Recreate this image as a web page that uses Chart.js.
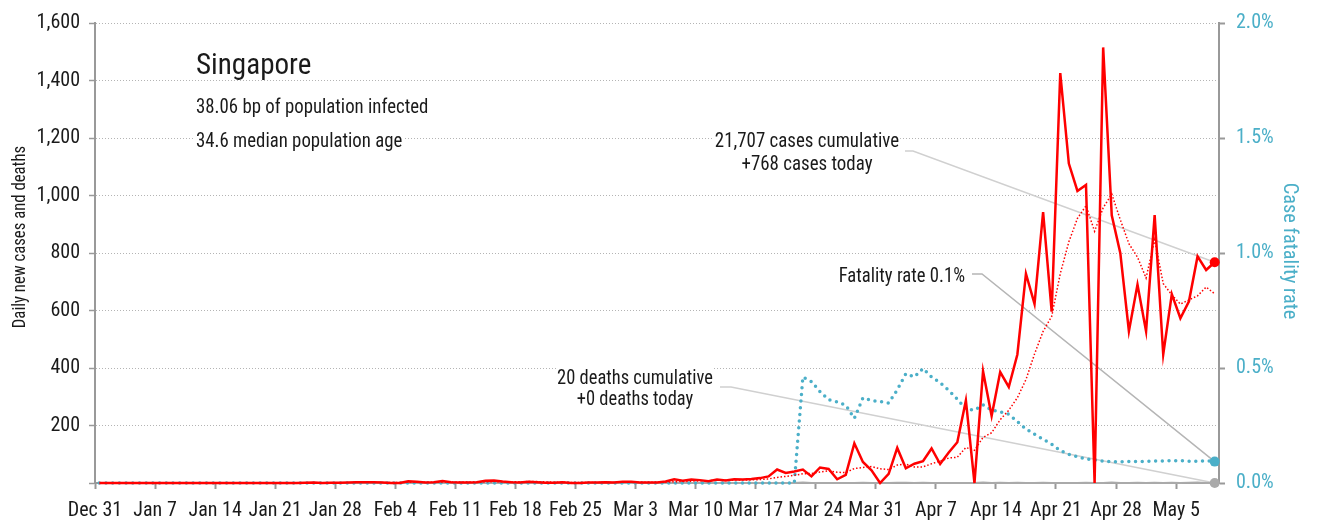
<!DOCTYPE html>
<html>
<head>
<meta charset="utf-8">
<script src="https://cdn.jsdelivr.net/npm/chart.js@4.4.0/dist/chart.umd.min.js"></script>
<style>
  html, body { margin: 0; padding: 0; background: #fff; }
  #wrap { width: 1319px; height: 522px; position: relative; }
</style>
</head>
<body>
<div id="wrap"><canvas id="chart"></canvas></div>
<script>
const FONT = "'Roboto Condensed', 'Liberation Sans Narrow', 'DejaVu Sans Condensed', sans-serif";

// one value per day, first day is Dec 31 (rows are weeks)
const cases = [
    0, 0, 0, 0, 0, 0, 0,
    0, 0, 0, 0, 0, 0, 0,
    0, 0, 0, 0, 0, 0, 0,
    0, 0, 0, 1, 2, 0, 1,
    1, 2, 3, 3, 3, 2, 0,
    0, 6, 4, 2, 3, 7, 3,
    2, 2, 3, 8, 9, 5, 3,
    2, 4, 3, 1, 1, 3, 0,
    0, 2, 2, 3, 2, 4, 4,
    2, 2, 2, 5, 13, 8, 12,
    10, 6, 12, 9, 13, 12, 14,
    17, 23, 47, 35, 40, 47, 23,
    54, 49, 13, 28, 138, 73, 44,
    0, 32, 122, 51, 67, 76, 120,
    66, 106, 142, 287, 0, 389, 233,
    386, 334, 447, 728, 623, 942, 596,
    1426, 1111, 1016, 1037, 0, 1515, 931,
    799, 528, 690, 528, 932, 447, 657,
    573, 632, 788, 741, 768
];

// dotted red trend line
const casesAvg = [
    null, null, null, null, null, null, 0,
    0, 0, 0, 0, 0, 0, 0,
    0, 0, 0, 0, 0, 0, 0,
    0, 0, 0, 0.14, 0.43, 0.43, 0.57,
    0.71, 1.0, 1.43, 1.71, 1.86, 2.14, 2.0,
    1.86, 2.43, 2.57, 2.43, 2.43, 3.14, 3.57,
    3.86, 3.29, 3.14, 4.0, 4.86, 4.57, 4.57,
    4.57, 4.86, 4.86, 3.86, 2.71, 2.43, 2.0,
    1.71, 1.43, 1.29, 1.57, 1.71, 1.86, 2.43,
    2.71, 2.71, 2.71, 3.0, 4.57, 5.14, 6.29,
    7.43, 8.0, 9.43, 10.0, 10.0, 10.57, 10.86,
    11.86, 14.29, 19.29, 23.0, 26.86, 31.86, 33.14,
    38.43, 42.14, 37.29, 36.29, 50.29, 54.0, 57.0,
    49.29, 46.86, 62.43, 65.71, 55.57, 56.0, 66.86,
    76.29, 86.86, 89.71, 123.43, 113.86, 158.57, 174.71,
    220.43, 253.0, 296.57, 359.57, 448.57, 527.57, 579.43,
    728.0, 839.0, 920.29, 964.43, 875.43, 957.29, 1005.14,
    915.57, 832.29, 785.71, 713.0, 846.14, 693.57, 654.43,
    622.14, 637.0, 651.0, 681.43, 658.0
];

// case fatality rate, percent
const fatality = [
    0, 0, 0, 0, 0, 0, 0,
    0, 0, 0, 0, 0, 0, 0,
    0, 0, 0, 0, 0, 0, 0,
    0, 0, 0, 0, 0, 0, 0,
    0, 0, 0, 0, 0, 0, 0,
    0, 0, 0, 0, 0, 0, 0,
    0, 0, 0, 0, 0, 0, 0,
    0, 0, 0, 0, 0, 0, 0,
    0, 0, 0, 0, 0, 0, 0,
    0, 0, 0, 0, 0, 0, 0,
    0, 0, 0, 0, 0, 0, 0,
    0, 0, 0, 0, 0, 0.461, 0.441,
    0.397, 0.362, 0.353, 0.338, 0.281, 0.370, 0.359,
    0.354, 0.348, 0.405, 0.475, 0.461, 0.498, 0.461,
    0.436, 0.403, 0.365, 0.321, 0.317, 0.340, 0.317,
    0.309, 0.299, 0.267, 0.235, 0.212, 0.190, 0.169,
    0.141, 0.125, 0.114, 0.105, 0.101, 0.095, 0.092,
    0.092, 0.093, 0.093, 0.094, 0.095, 0.096, 0.097,
    0.097, 0.095, 0.095, 0.097, 0.093
];

const deaths = [
    0, 0, 0, 0, 0, 0, 0,
    0, 0, 0, 0, 0, 0, 0,
    0, 0, 0, 0, 0, 0, 0,
    0, 0, 0, 0, 0, 0, 0,
    0, 0, 0, 0, 0, 0, 0,
    0, 0, 0, 0, 0, 0, 0,
    0, 0, 0, 0, 0, 0, 0,
    0, 0, 0, 0, 0, 0, 0,
    0, 0, 0, 0, 0, 0, 0,
    0, 0, 0, 0, 0, 0, 0,
    0, 0, 0, 0, 0, 0, 0,
    0, 0, 0, 0, 0, 2, 0,
    0, 0, 0, 0, 0, 1, 0,
    0, 0, 1, 1, 0, 1, 0,
    0, 0, 0, 0, 0, 2, 0,
    1, 0, 1, 0, 0, 1, 0,
    0, 0, 0, 1, 0, 0, 2,
    0, 0, 1, 0, 1, 0, 1,
    0, 1, 2, 0, 0
];

const weekLabels = ['Dec 31', 'Jan 7', 'Jan 14', 'Jan 21', 'Jan 28', 'Feb 4', 'Feb 11', 'Feb 18',
    'Feb 25', 'Mar 3', 'Mar 10', 'Mar 17', 'Mar 24', 'Mar 31', 'Apr 7', 'Apr 14', 'Apr 21',
    'Apr 28', 'May 5'];

const country = 'Singapore';
const infoLines = ['38.06 bp of population infected', '34.6 median population age'];
const casesNote = ['21,707 cases cumulative', '+768 cases today'];
const fatalityNote = 'Fatality rate 0.1%';
const deathsNote = ['20 deaths cumulative', '+0 deaths today'];

const RED = '#ff0000';
const CYAN = '#4bafc8';
const GREY = '#999999';
const last = cases.length - 1;

// each day's value sits in the middle of its day
function points(values) {
    return values.map((v, i) => ({ x: i + 0.5, y: v }));
}

function endDot(c) {
    return c.dataIndex === last ? 5 : 0;
}

function leader(ctx, pts, color) {
    ctx.save();
    ctx.strokeStyle = color;
    ctx.lineWidth = 1.5;
    ctx.beginPath();
    ctx.moveTo(pts[0][0], pts[0][1]);
    for (let i = 1; i < pts.length; i++) ctx.lineTo(pts[i][0], pts[i][1]);
    ctx.stroke();
    ctx.restore();
}

// text squeezed a bit sideways, the original uses a narrower face
function label(ctx, text, x, y, align, size, squeeze) {
    ctx.save();
    ctx.font = size + 'px ' + FONT;
    const w = ctx.measureText(text).width * squeeze;
    let left = x;
    if (align === 'center') left = x - w / 2;
    if (align === 'right') left = x - w;
    ctx.fillStyle = '#ffffff';
    ctx.fillRect(left - 1, y - size * 0.78, w + 2, size * 0.95);
    ctx.fillStyle = '#1a1a1a';
    ctx.textAlign = 'left';
    ctx.textBaseline = 'alphabetic';
    ctx.translate(left, y);
    ctx.scale(squeeze, 1);
    ctx.fillText(text, 0, 0);
    ctx.restore();
}

const notes = {
    id: 'notes',
    beforeDatasetsDraw(chart) {
        const ctx = chart.ctx;
        const x = chart.scales.x, y = chart.scales.y, y1 = chart.scales.y1;
        const px = x.getPixelForValue(last + 0.5);
        leader(ctx, [[905, 151], [913, 151], [px, y.getPixelForValue(cases[last])]], '#d0d0d0');
        leader(ctx, [[972, 274], [982, 274], [px, y1.getPixelForValue(fatality[last])]], '#b5b5b5');
        leader(ctx, [[720, 387], [731, 387], [px, y.getPixelForValue(deaths[last])]], '#d0d0d0');
    },
    afterDraw(chart) {
        const ctx = chart.ctx;
        label(ctx, country, 196, 74, 'left', 30, 0.97);
        label(ctx, infoLines[0], 196, 113, 'left', 21, 0.895);
        label(ctx, infoLines[1], 196, 147, 'left', 21, 0.895);
        label(ctx, casesNote[0], 807, 147, 'center', 21, 0.9);
        label(ctx, casesNote[1], 807, 170, 'center', 21, 0.9);
        label(ctx, fatalityNote, 965, 282, 'right', 21, 0.89);
        label(ctx, deathsNote[0], 635, 383.5, 'center', 21, 0.88);
        label(ctx, deathsNote[1], 635, 405, 'center', 21, 0.88);

        // axis titles
        ctx.save();
        ctx.font = '19px ' + FONT;
        ctx.fillStyle = '#1a1a1a';
        ctx.textAlign = 'center';
        ctx.textBaseline = 'alphabetic';
        ctx.translate(25, 237);
        ctx.rotate(-Math.PI / 2);
        ctx.scale(0.88, 1);
        ctx.fillText('Daily new cases and deaths', 0, 0);
        ctx.restore();

        ctx.save();
        ctx.font = '21px ' + FONT;
        ctx.fillStyle = CYAN;
        ctx.textAlign = 'center';
        ctx.textBaseline = 'alphabetic';
        ctx.translate(1284, 251);
        ctx.rotate(Math.PI / 2);
        ctx.scale(0.97, 1);
        ctx.fillText('Case fatality rate', 0, 0);
        ctx.restore();
    }
};

Chart.defaults.font.family = FONT;
Chart.defaults.font.size = 20;
Chart.defaults.color = '#1a1a1a';

new Chart(document.getElementById('chart'), {
    type: 'line',
    data: {
        datasets: [
            {
                label: 'Daily new cases',
                data: points(cases),
                yAxisID: 'y',
                borderColor: RED,
                backgroundColor: RED,
                borderWidth: 2.5,
                pointRadius: endDot,
                pointBorderWidth: 0,
                tension: 0,
                clip: false
            },
            {
                label: 'Trend',
                data: points(casesAvg),
                yAxisID: 'y',
                borderColor: RED,
                borderWidth: 1.5,
                borderDash: [1.5, 2],
                pointRadius: 0,
                tension: 0
            },
            {
                label: 'Case fatality rate',
                data: points(fatality),
                yAxisID: 'y1',
                borderColor: CYAN,
                backgroundColor: CYAN,
                borderWidth: 3.5,
                borderDash: [0, 6.7],
                borderCapStyle: 'round',
                pointRadius: endDot,
                pointBorderWidth: 0,
                tension: 0,
                clip: false
            },
            {
                label: 'Daily deaths',
                data: points(deaths),
                yAxisID: 'y',
                borderColor: '#aaaaaa',
                backgroundColor: '#aaaaaa',
                borderWidth: 2,
                pointRadius: endDot,
                pointBorderWidth: 0,
                tension: 0,
                clip: false
            }
        ]
    },
    options: {
        responsive: true,
        maintainAspectRatio: false,
        animation: false,
        events: [],
        layout: { padding: { top: 20, left: 0, right: 0, bottom: 0 } },
        plugins: {
            legend: { display: false },
            tooltip: { enabled: false }
        },
        scales: {
            x: {
                type: 'linear',
                min: 0,
                max: 131,
                afterBuildTicks: axis => {
                    axis.ticks = weekLabels.map((_, i) => ({ value: i * 7 }));
                },
                afterFit: axis => { axis.height = 39; },
                ticks: {
                    callback: (v, i) => weekLabels[i],
                    maxRotation: 0,
                    autoSkip: false,
                    padding: 10,
                    color: '#1a1a1a',
                    font: { size: 20 }
                },
                grid: {
                    drawOnChartArea: false,
                    drawTicks: true,
                    tickLength: 6,
                    tickWidth: 2,
                    tickColor: GREY
                },
                border: { display: true, color: GREY, width: 2 }
            },
            y: {
                position: 'left',
                min: 0,
                max: 1600,
                afterFit: axis => { axis.width = 95; },
                ticks: {
                    stepSize: 200,
                    padding: 9,
                    color: '#1a1a1a',
                    font: { size: 20 },
                    callback: v => v === 0 ? '' : v.toLocaleString('en-US')
                },
                grid: {
                    color: '#b4b4b4',
                    lineWidth: 1,
                    drawTicks: true,
                    tickLength: 6,
                    tickWidth: 1.5,
                    tickColor: GREY
                },
                border: { display: true, color: GREY, width: 2, dash: [1, 2] }
            },
            y1: {
                position: 'right',
                min: 0,
                max: 2,
                afterFit: axis => { axis.width = 100; },
                ticks: {
                    stepSize: 0.5,
                    padding: 11,
                    color: CYAN,
                    font: { size: 20 },
                    callback: v => v.toFixed(1) + '%'
                },
                grid: {
                    drawOnChartArea: false,
                    drawTicks: true,
                    tickLength: 6,
                    tickWidth: 2,
                    tickColor: GREY
                },
                border: { display: true, color: GREY, width: 2 }
            }
        }
    },
    plugins: [notes]
});
</script>
</body>
</html>
